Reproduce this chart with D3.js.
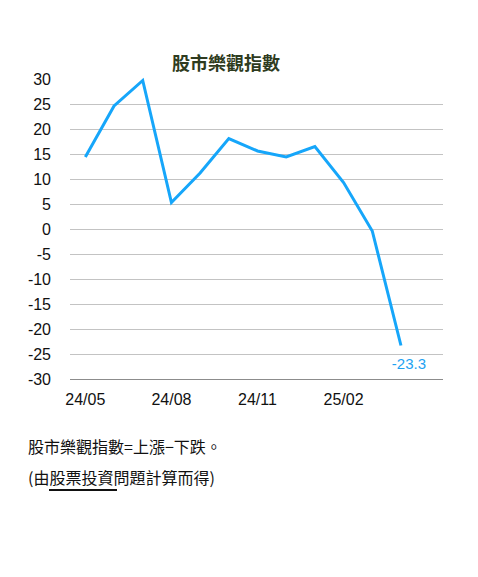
<!DOCTYPE html>
<html>
<head>
<meta charset="utf-8">
<script src="https://cdn.jsdelivr.net/npm/d3@7"></script>
<style>
  body { margin: 0; background: #fff; }
  svg { display: block; font-family: "Liberation Sans", Arial, "Noto Sans CJK TC", sans-serif; }
</style>
</head>
<body>
<svg id="chart" width="478" height="577"></svg>
<script>
// data
var months = ["24/05", "24/06", "24/07", "24/08", "24/09", "24/10", "24/11", "24/12", "25/01", "25/02", "25/03", "25/04"];
var values = [14.4, 24.6, 29.7, 5.3, 11.2, 18.1, 15.6, 14.4, 16.5, 9.3, -0.4, -23.3];
var tickLabels = ["24/05", "24/08", "24/11", "25/02"];
var yTicks = [30, 25, 20, 15, 10, 5, 0, -5, -10, -15, -20, -25, -30];

var svg = d3.select("#chart");

var plotL = 70, plotR = 443, plotT = 79, plotB = 379;

// one empty slot after the last month
var x = d3.scaleLinear().domain([-0.5, months.length + 0.5]).range([plotL + 1, plotR + 1]);
var y = d3.scaleLinear().domain([-30, 30]).range([plotB, plotT]);

// title
svg.append("text")
  .attr("x", 226).attr("y", 70)
  .attr("text-anchor", "middle")
  .attr("font-family", "'Noto Sans CJK TC', sans-serif")
  .attr("font-size", 18).attr("font-weight", "bold")
  .attr("fill", "#2e3b20")
  .text("股市樂觀指數");

// grid lines (no line at the top value)
svg.append("g").selectAll("line")
  .data(yTicks.filter(function(d) { return d < 30 && d > -30; }))
  .enter().append("line")
  .attr("x1", plotL).attr("x2", plotR)
  .attr("y1", function(d) { return Math.round(y(d)) + 0.5; })
  .attr("y2", function(d) { return Math.round(y(d)) + 0.5; })
  .attr("stroke", "#c3c3c3").attr("stroke-width", 1);

// bottom axis line
svg.append("line")
  .attr("x1", plotL).attr("x2", plotR)
  .attr("y1", y(-30) + 0.5).attr("y2", y(-30) + 0.5)
  .attr("stroke", "#8c8c8c").attr("stroke-width", 1);

// y labels
svg.append("g").selectAll("text")
  .data(yTicks)
  .enter().append("text")
  .attr("x", 51)
  .attr("y", function(d) { return y(d) + 5.5; })
  .attr("text-anchor", "end")
  .attr("font-size", 16)
  .attr("fill", "#111")
  .text(function(d) { return d; });

// x labels
svg.append("g").selectAll("text")
  .data(tickLabels)
  .enter().append("text")
  .attr("x", function(d) { return x(months.indexOf(d)); })
  .attr("y", 405)
  .attr("text-anchor", "middle")
  .attr("font-size", 16)
  .attr("fill", "#111")
  .text(function(d) { return d; });

// line
var line = d3.line()
  .x(function(d, i) { return x(i); })
  .y(function(d) { return y(d); });

svg.append("path")
  .attr("d", line(values))
  .attr("fill", "none")
  .attr("stroke", "#16a6fa")
  .attr("stroke-width", 3)
  .attr("stroke-linejoin", "miter");

// last value label
var last = values.length - 1;
svg.append("text")
  .attr("x", x(last) + 8)
  .attr("y", y(values[last]) + 23)
  .attr("text-anchor", "middle")
  .attr("font-size", 15)
  .attr("fill", "#1ea2f2")
  .text(values[last]);

// footnotes
var note = svg.append("g")
  .attr("font-family", "'Noto Sans CJK TC', sans-serif")
  .attr("font-size", 16)
  .attr("fill", "#111");

note.append("text").attr("x", 28).attr("y", 453).text("股市樂觀指數=上漲−下跌。");
note.append("text").attr("x", 28).attr("y", 484).text("(由股票投資問題計算而得)");
note.append("line")
  .attr("x1", 49).attr("x2", 117)
  .attr("y1", 490).attr("y2", 490)
  .attr("stroke", "#111").attr("stroke-width", 2);
</script>
</body>
</html>
